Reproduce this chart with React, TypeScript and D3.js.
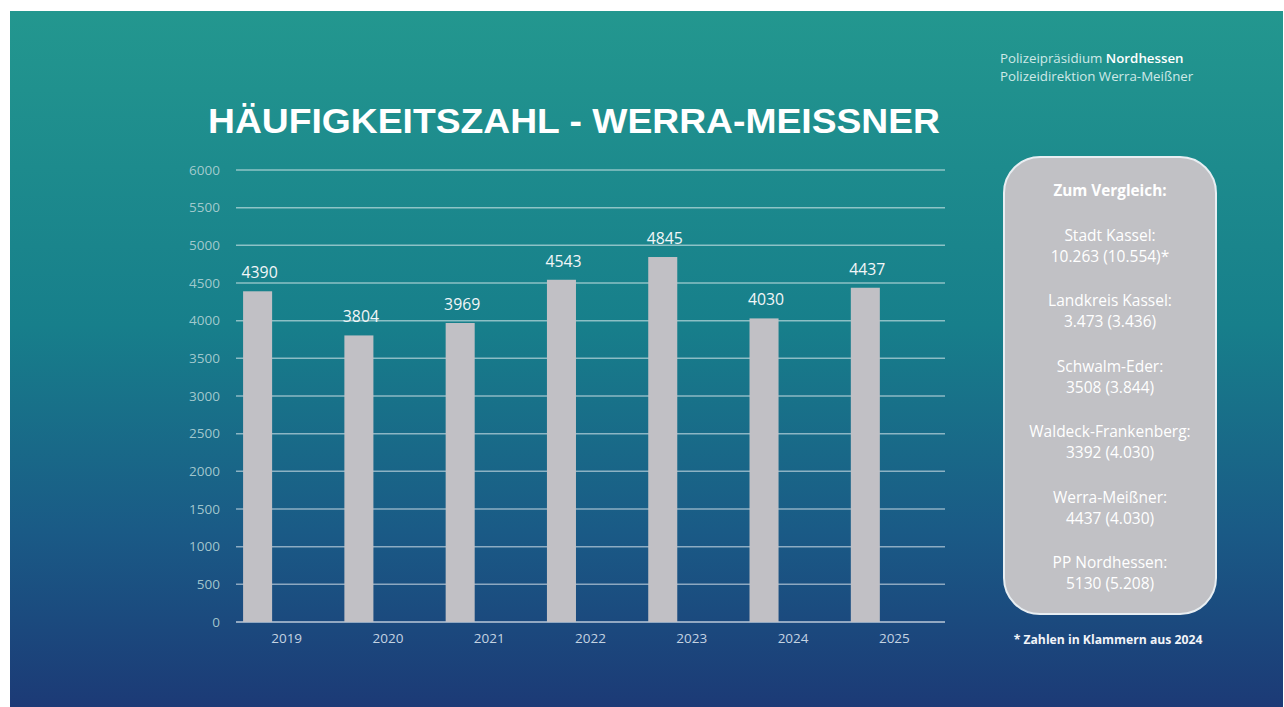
import * as d3 from "d3";
import React from "react";

const years = ["2019", "2020", "2021", "2022", "2023", "2024", "2025"];
const values = [4390, 3804, 3969, 4543, 4845, 4030, 4437];
const yTicks = [0, 500, 1000, 1500, 2000, 2500, 3000, 3500, 4000, 4500, 5000, 5500, 6000];
// series slots per category (only first is filled, like the source chart)
const seriesSlots = ["a", "b", "c"];

const compareTitle = "Zum Vergleich:";
const compareNames = ["Stadt Kassel:", "Landkreis Kassel:", "Schwalm-Eder:", "Waldeck-Frankenberg:", "Werra-Meißner:", "PP Nordhessen:"];
const compareValues = ["10.263 (10.554)*", "3.473 (3.436)", "3508 (3.844)", "3392 (4.030)", "4437 (4.030)", "5130 (5.208)"];
const footnote = "* Zahlen in Klammern aus 2024";

const W = 1284;
const H = 707;
const plot = { left: 236, right: 945, top: 170, bottom: 622 };
const font = "'Open Sans', 'Noto Sans', sans-serif";

const App = () => {
  const x = d3.scaleBand().domain(years).range([plot.left, plot.right]).paddingInner(0).paddingOuter(0);
  const y = d3.scaleLinear().domain([0, 6000]).range([plot.bottom, plot.top]);
  const groupW = x.bandwidth() * 0.86;
  const inner = d3
    .scaleBand()
    .domain(seriesSlots)
    .range([(x.bandwidth() - groupW) / 2, (x.bandwidth() + groupW) / 2]);

  const boxX = 1004, boxY = 157, boxW = 212, boxH = 457;
  const cx = boxX + boxW / 2;

  return (
    <svg width={W} height={H} style={{ position: "absolute", left: 0, top: 0 }}>
      <defs>
        <linearGradient id="bg" x1="0" y1="0" x2="0" y2="1">
          <stop offset="0%" stopColor="#23978f" />
          <stop offset="45%" stopColor="#177f8b" />
          <stop offset="75%" stopColor="#1a5a86" />
          <stop offset="100%" stopColor="#1c3a76" />
        </linearGradient>
      </defs>
      <rect x={0} y={0} width={W} height={H} fill="#ffffff" />
      <rect x={10} y={11} width={W - 11} height={H - 11} fill="url(#bg)" />

      {/* header */}
      <text x={1000} y={63} fontFamily={font} fontSize={13.3} fill="#cfe9e7">
        Polizeipräsidium <tspan fontWeight="600" fill="#ffffff">Nordhessen</tspan>
      </text>
      <text x={1000} y={81} fontFamily={font} fontSize={13.3} fill="#cfe9e7">
        Polizeidirektion Werra-Meißner
      </text>

      {/* title */}
      <text
        x={208}
        y={133}
        fontFamily="'Liberation Sans', Arial, sans-serif"
        fontWeight="bold"
        fontSize={35}
        fill="#ffffff"
        textLength={732}
        lengthAdjust="spacingAndGlyphs"
      >
        HÄUFIGKEITSZAHL - WERRA-MEISSNER
      </text>

      {/* gridlines + y labels */}
      {yTicks.map((t) => (
        <g key={t}>
          <line
            x1={plot.left}
            x2={plot.right}
            y1={y(t)}
            y2={y(t)}
            stroke="#ffffff"
            strokeOpacity={t === 0 ? 0.7 : 0.5}
            strokeWidth={1.5}
          />
          <text
            x={220}
            y={y(t)}
            dy="0.35em"
            textAnchor="end"
            fontFamily={font}
            fontSize={13.5}
            fill="#b3d3d6"
            fillOpacity={0.9}
          >
            {t}
          </text>
        </g>
      ))}

      {/* bars */}
      {years.map((yr, i) => {
        const bx = (x(yr) ?? 0) + (inner("a") ?? 0);
        const bw = inner.bandwidth();
        return (
          <g key={yr}>
            <rect x={bx} y={y(values[i])} width={bw} height={y(0) - y(values[i])} fill="#c1c0c5" />
            <text
              x={bx + bw / 2 + 2}
              y={y(values[i]) - 13}
              textAnchor="middle"
              fontFamily={font}
              fontSize={15.8}
              fill="#f2f6f8"
            >
              {values[i]}
            </text>
            <text
              x={(x(yr) ?? 0) + x.bandwidth() / 2}
              y={643}
              textAnchor="middle"
              fontFamily={font}
              fontSize={13.5}
              fill="#c4d3e2"
            >
              {yr}
            </text>
          </g>
        );
      })}

      {/* comparison box */}
      <rect x={boxX} y={boxY} width={boxW} height={boxH} rx={36} ry={36} fill="#c1c1c5" stroke="#e8eef2" strokeWidth={2} />
      <text x={cx} y={196} textAnchor="middle" fontFamily={font} fontWeight="bold" fontSize={15.3} fill="#ffffff">
        {compareTitle}
      </text>
      {compareNames.map((n, i) => (
        <g key={n}>
          <text x={cx} y={241 + i * 65.4} textAnchor="middle" fontFamily={font} fontSize={15.5} fill="#ffffff">
            {n}
          </text>
          <text x={cx} y={262 + i * 65.4} textAnchor="middle" fontFamily={font} fontSize={15.5} fill="#ffffff">
            {compareValues[i]}
          </text>
        </g>
      ))}
      <text x={1108} y={644} textAnchor="middle" fontFamily={font} fontWeight="bold" fontSize={12.2} fill="#f2f4f8">
        {footnote}
      </text>
    </svg>
  );
};

export default App;
